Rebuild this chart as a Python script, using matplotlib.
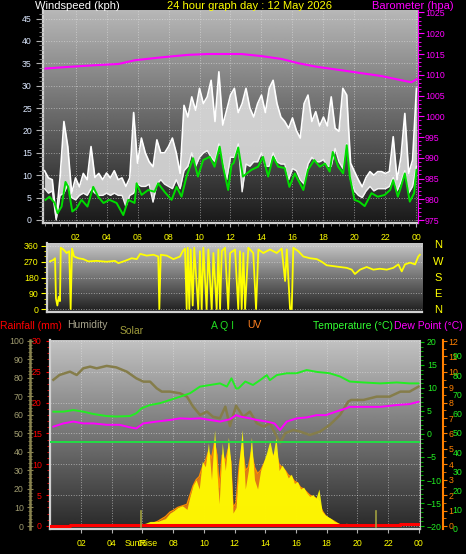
import matplotlib
matplotlib.use('Agg')
import matplotlib.pyplot as plt
import numpy as np
from matplotlib.ticker import MultipleLocator, FixedLocator

plt.rcParams['font.family'] = ['Liberation Sans', 'DejaVu Sans']

# ---------------- data ----------------
# wind, 15 minute steps from 00:00 to 24:00
wind_hours = [i * 0.25 for i in range(97)]
gust = [11, 9.4, 9.0, 0.5, 9.4, 22, 16.4, 6.0, 9.4, 7.4, 10.4, 9.0, 16.4, 9.5, 10.4, 9.0,
        10.5, 9.4, 11, 9.0, 9.4, 7.5, 9.4, 24, 12.7, 18.3, 15, 13, 11.9, 17.9, 15, 15,
        16.4, 18.3, 15, 10.4, 25.6, 23, 27.5, 24.5, 29.4, 26, 27.5, 31.2, 22, 33.1, 21.2, 24.5,
        27.9, 29.4, 24, 26, 29.4, 25, 23, 26, 27.9, 24, 29.4, 31.2, 26, 23, 22, 20.5,
        22.8, 20, 18.3, 26, 27.9, 22, 24.2, 21, 23, 21, 27.5, 20.5, 19.8, 29.4, 27.9, 12.7,
        10.8, 9, 7.4, 9.5, 10.8, 10, 10.8, 10.8, 10.4, 10.8, 18.6, 9, 14, 23.8, 10.4, 13.4, 29.4]
wind_low = [7, 6, 6.5, 0, 5.5, 6, 8, 5, 4.5, 5.5, 6, 5.5, 7, 6, 5.5, 5.5,
            6, 5.5, 6, 5.5, 5.5, 3, 5.5, 6, 8, 7.5, 7.5, 8, 4, 8, 9, 8,
            7.5, 7, 9, 7, 11, 12, 15, 12, 14, 15, 15.5, 14, 13, 17, 13.5, 9,
            14, 14, 17, 6.3, 12.5, 12, 13, 13, 15, 12, 12, 15, 13, 12.5, 12.5, 9,
            11.5, 11, 9, 8, 12.5, 14, 13, 13, 13.5, 12, 12, 16, 13, 11.5, 17, 9,
            6.5, 5.5, 5, 6.5, 7.5, 6.5, 7, 7, 7, 7.5, 9.5, 6.5, 8.5, 11, 6, 7.5, 12]

avg_hours = [0.06, 0.32, 0.65, 0.84, 1.1, 1.35, 1.53, 1.79, 2.06, 2.39, 2.77, 3.14, 3.46, 3.8,
             4.19, 4.65, 5.08, 5.4, 5.81, 5.94, 6.26, 6.69, 7.1, 7.33, 7.74, 8.2, 8.52, 8.84,
             9.16, 9.59, 9.9, 10.24, 10.66, 10.97, 11.3, 11.52, 11.85, 12.06, 12.2, 12.5, 12.8,
             13.35, 13.78, 14.1, 14.43, 14.75, 15.08, 15.5, 15.8, 16.15, 16.7, 17.0, 17.4, 17.76,
             18.1, 18.4, 18.6, 18.95, 19.27, 19.5, 19.7, 20.0, 20.3, 20.66, 21.1, 21.5, 21.95,
             22.3, 22.5, 22.8, 23.0, 23.25, 23.57, 23.85, 24.0]
wind_avg = [4.5, 5.2, 3.8, 1.5, 3.0, 8.5, 7.4, 1.9, 2.6, 4.5, 3.0, 7.4, 5.2, 3.8,
            4.5, 3.8, 1.1, 4.5, 3.8, 8.2, 5.6, 6.7, 6.3, 8.2, 6.3, 4.5, 7.4, 5.2,
            9.7, 13.8, 9.7, 13.4, 14.1, 11.9, 16.4, 11.9, 6.7, 12.3, 12.7, 16.2, 9.7,
            11.2, 11.9, 14.1, 9.7, 14.1, 11.9, 11.6, 7.4, 10.4, 6.7, 11.2, 13.4, 11.9,
            12.6, 10.8, 15.2, 11.9, 10.4, 16.7, 9.7, 4.5, 4.1, 3.1, 6.0, 5.2, 5.6,
            6.7, 8.9, 5.2, 7.4, 10.4, 4.1, 6.0, 11.2]

baro_hours = [0.06, 1.53, 3.25, 4.77, 5.83, 7.55, 9.27, 10.56, 12.06, 12.7, 14.0, 15.3, 16.36,
              17.6, 19.15, 20.23, 21.74, 23.0, 23.67, 24.0]
baro = [1011.5, 1011.9, 1012.3, 1012.6, 1013.5, 1014.2, 1014.8, 1015.0, 1015.0, 1015.0, 1014.5,
        1013.8, 1012.8, 1011.9, 1011.1, 1010.5, 1009.7, 1008.7, 1008.2, 1008.9]

dir_hours = [0.06, 0.28, 0.39, 0.45, 0.54, 0.63, 0.71, 0.76, 0.93, 1.14, 1.31, 1.4, 1.49, 1.62,
             1.9, 2.22, 2.54, 3.09, 3.73, 4.27, 4.49, 4.92, 5.35, 5.68, 5.9, 6.32, 6.76, 7.07,
             7.14, 7.23, 7.62, 8.05, 8.48, 8.65, 8.8, 8.91, 8.98, 9.08, 9.17, 9.3, 9.4, 9.66,
             9.77, 9.88, 9.99, 10.2, 10.31, 10.53, 10.64, 10.85, 10.96, 11.07, 11.18, 11.39,
             11.6, 11.72, 12.04, 12.25, 12.36, 12.47, 12.58, 12.69, 12.9, 13.22, 13.4, 13.55,
             13.87, 14.3, 14.74, 15.06, 15.28, 15.39, 15.6, 15.71, 15.81, 16.14, 16.46, 16.89,
             17.33, 17.65, 17.97, 18.4, 18.83, 19.27, 19.59, 19.8, 20.13, 20.56, 20.99, 21.42,
             21.86, 22.28, 22.61, 22.83, 23.04, 23.37, 23.69, 23.9, 24.0]
direction = [272, 280, 290, 60, 20, 70, 45, 350, 340, 320, 330, 0, 345, 300,
             290, 285, 272, 275, 270, 275, 262, 275, 290, 285, 315, 305, 310, 300,
             0, 310, 305, 285, 300, 330, 345, 0, 350, 0, 340, 20, 350, 0,
             330, 0, 350, 0, 340, 0, 320, 0, 340, 0, 330, 350,
             0, 320, 340, 0, 330, 0, 320, 0, 350, 320, 0, 340,
             320, 340, 320, 345, 160, 340, 0, 0, 350, 330, 300, 290,
             285, 270, 250, 245, 240, 235, 225, 200, 225, 240, 225, 230,
             225, 235, 255, 215, 255, 265, 255, 300, 310]

hum_hours = [0.2, 0.6, 1.28, 1.72, 2.15, 2.59, 3.02, 3.67, 4.3, 4.98, 5.6, 6.06, 6.5, 6.93, 7.26,
             7.8, 8.45, 8.9, 9.3, 9.75, 10.2, 10.6, 11.05, 11.4, 11.7, 12.1, 12.57, 13.0, 13.45,
             13.9, 14.3, 14.75, 14.96, 15.3, 15.83, 16.27, 16.9, 17.57, 18.2, 18.87, 19.4, 19.6,
             20.4, 21.26, 22.1, 22.8, 23.4, 23.98]
humidity = [79, 81.6, 83.4, 81.6, 85.2, 86.1, 85.2, 86.5, 85.7, 83.4, 79.8, 78, 78, 74.4, 72.6,
            72.6, 71.7, 69.9, 64.5, 60, 61.8, 59, 58.2, 64.5, 54, 65, 59, 61.8, 55.5,
            53.7, 55.5, 48.3, 44.7, 50.1, 51.9, 51, 49.2, 51, 54.6, 60, 67.2, 68.1,
            68.1, 69.9, 69.9, 72.6, 72.6, 75.3]

temp_hours = [0.2, 0.85, 1.5, 2.15, 2.8, 3.67, 4.3, 5.19, 5.6, 5.95, 6.5, 7.15, 7.8, 8.45, 9.1,
              9.75, 10.4, 11.05, 11.5, 11.8, 12.1, 12.25, 12.7, 13.2, 13.66, 14.1, 14.3, 14.75,
              15.4, 16.05, 16.7, 17.35, 18.2, 18.87, 19.5, 20.4, 21.5, 22.57, 23.4, 23.98]
temperature = [4.85, 4.85, 5.2, 4.85, 4.35, 3.9, 3.8, 3.9, 4.5, 5.6, 6.3, 6.7, 7.4, 8.1, 8.85,
               10.3, 10.65, 11.0, 10.3, 12.1, 9.9, 9.9, 11.4, 10.65, 11.7, 12.8, 11.7, 12.8,
               13.2, 13.2, 13.9, 13.5, 13.2, 12.5, 11.4, 11.2, 11.0, 11.2, 11.0, 11.0]

dew_hours = [0.2, 0.85, 1.5, 2.15, 2.8, 3.67, 4.5, 5.19, 5.6, 6.06, 6.93, 7.8, 8.45, 9.1, 9.75,
             10.4, 11.05, 11.7, 12.1, 12.35, 13.0, 13.45, 14.1, 14.6, 14.96, 15.4, 16.05, 16.7,
             17.35, 17.95, 18.6, 19.3, 19.5, 20.4, 21.5, 22.57, 23.4, 23.98]
dew_point = [1.6, 2.3, 2.7, 2.3, 2.3, 2.0, 2.0, 1.45, 1.2, 2.3, 2.7, 3.05, 3.4, 3.3, 3.4,
             3.05, 2.7, 3.2, 4.1, 3.8, 3.4, 3.05, 2.7, 2.3, 0.87, 2.7, 3.4, 3.6,
             4.1, 4.1, 4.85, 5.6, 5.9, 5.9, 5.9, 6.3, 6.5, 7.0]

solar_hours = [5.9, 6.2, 6.5, 7.0, 7.5, 7.8, 8.0, 8.3, 8.6, 8.9, 9.1, 9.3, 9.5, 9.7, 9.9, 10.1,
               10.3, 10.5, 10.7, 10.85, 11.0, 11.2, 11.4, 11.6, 11.75, 11.9, 12.1, 12.3, 12.5,
               12.7, 12.9, 13.1, 13.3, 13.5, 13.7, 13.9, 14.1, 14.3, 14.5, 14.7, 14.9, 15.1,
               15.3, 15.5, 15.7, 15.9, 16.1, 16.3, 16.5, 16.7, 16.9, 17.1, 17.3, 17.5, 17.7,
               17.9, 18.1, 18.3, 18.5, 18.8, 19.0, 19.3, 19.5, 19.7, 20.0]
solar = [10, 15, 25, 25, 40, 70, 80, 100, 110, 90, 160, 220, 250, 200, 350, 320,
         450, 250, 520, 300, 120, 450, 300, 480, 350, 70, 100, 350, 520,
         200, 300, 480, 250, 200, 300, 350, 400, 460, 380, 480, 300, 330,
         300, 260, 280, 230, 240, 200, 210, 180, 160, 170, 150, 200, 80,
         60, 50, 40, 25, 15, 10, 15, 5, 10, 0]
uv = [0, 0, 0.1, 0.3, 0.6, 0.9, 1.0, 1.2, 1.3, 1.4, 2.0, 2.6, 3.0, 3.2, 3.8, 4.2,
      4.8, 4.4, 5.4, 4.6, 2.5, 4.6, 4.2, 5.0, 4.2, 1.2, 1.5, 3.8, 5.2,
      3.6, 3.8, 4.8, 3.8, 3.4, 3.6, 4.0, 4.4, 4.8, 4.5, 4.8, 4.0, 3.8,
      3.6, 3.3, 3.2, 2.9, 2.8, 2.5, 2.4, 2.2, 2.0, 1.9, 1.8, 1.6, 1.0,
      0.7, 0.5, 0.4, 0.3, 0.1, 0, 0, 0, 0, 0]

aqi_hours = [0, 24]
aqi = [45, 45]

rain_hours = [0, 1.3, 1.3, 22.8, 22.8, 24]
rain = [0, 0, 0.12, 0.12, 0.4, 0.4]

sunrise, sunset = 5.9, 21.2

hour_ticks = list(range(2, 25, 2))
hour_labels = ['02', '04', '06', '08', '10', '12', '14', '16', '18', '20', '22', '00']

# ---------------- figure ----------------
W, H = 466, 554
fig = plt.figure(figsize=(W / 100, H / 100), dpi=100, facecolor='black')


def px_axes(l, t, r, b):
    return fig.add_axes([l / W, 1 - b / H, (r - l) / W, (b - t) / H])


def shade(ax, top, bottom):
    grad = np.linspace(top, bottom, 256).reshape(-1, 1)
    ax.imshow(grad, extent=[0, 1, 0, 1], transform=ax.transAxes, cmap='gray',
              vmin=0, vmax=1, aspect='auto', zorder=0, interpolation='bilinear')


def frame(ax, color='#d0d0d0'):
    for s in ['top', 'right']:
        ax.spines[s].set_visible(False)
    for s in ['left', 'bottom']:
        ax.spines[s].set_color(color)
        ax.spines[s].set_linewidth(1.6)


def ftext(x, y, s, color, ha='left', size=7.5, **kw):
    fig.text(x / W, 1 - y / H, s, color=color, ha=ha, va='center', fontsize=size, **kw)


grid_kw = dict(color='#e6e6e6', linestyle=':', linewidth=0.7, alpha=0.55)
tick_font = 6.3

# ---------------- top panel : wind + barometer ----------------
ax1 = px_axes(43, 10, 418, 223)
ax1.set_facecolor('black')
shade(ax1, 0.72, 0.1)
ax1.fill_between(wind_hours, wind_low, gust, color='#dcdcdc', alpha=0.9, lw=0, zorder=2)
ax1.plot(wind_hours, gust, color='white', lw=1.2, zorder=3)
ax1.plot(wind_hours, wind_low, color='#f4f4f4', lw=1.0, zorder=3)
ax1.plot(avg_hours, wind_avg, color='#00dd00', lw=1.4, zorder=4)
ax1.set_xlim(-0.1, 24.1)
ax1.set_ylim(-0.67, 46.9)
frame(ax1)
ax1.yaxis.set_major_locator(MultipleLocator(5))
ax1.yaxis.set_minor_locator(MultipleLocator(1))
ax1.xaxis.set_major_locator(FixedLocator(hour_ticks))
ax1.xaxis.set_minor_locator(MultipleLocator(0.5))
ax1.set_xticklabels(hour_labels)
ax1.tick_params(axis='y', which='major', length=5, color='#b0b0b0', labelcolor='#dce8ff',
                labelsize=tick_font, pad=3)
ax1.tick_params(axis='y', which='minor', length=3, color='#909090')
ax1.tick_params(axis='x', which='major', length=3, color='#b0b0b0', labelcolor='#ffff00',
                labelsize=tick_font, pad=4)
ax1.tick_params(axis='x', which='minor', length=2, color='#909090')
ax1.grid(True, which='major', **grid_kw)
ax1.set_axisbelow(False)

ax1b = ax1.twinx()
ax1b.plot(baro_hours, baro, color='#ff00ff', lw=1.5, zorder=5)
ax1b.set_ylim(974.3, 1025.6)
for s in ['top', 'left', 'bottom']:
    ax1b.spines[s].set_visible(False)
ax1b.spines['right'].set_color('#ff00ff')
ax1b.yaxis.set_major_locator(MultipleLocator(5))
ax1b.yaxis.set_minor_locator(MultipleLocator(1))
ax1b.tick_params(axis='y', which='major', length=4, color='#ff00ff', labelcolor='#ff00ff',
                 labelsize=tick_font, pad=1)
ax1b.tick_params(axis='y', which='minor', length=2, color='#ff00ff')

ftext(35, 6, 'Windspeed (kph)', 'white', size=8)
ftext(250, 6, '24 hour graph day : 12 May 2026', '#ffff00', ha='center', size=8)
ftext(372, 6, 'Barometer (hpa)', '#ff00ff', size=8)

# ---------------- middle panel : wind direction ----------------
ax2 = px_axes(47, 243, 422, 312)
shade(ax2, 0.78, 0.12)
ax2.plot(dir_hours, direction, color='#ffff00', lw=1.3, zorder=3)
ax2.set_xlim(-0.13, 24.14)
ax2.set_ylim(-17, 377)
frame(ax2)
ax2.yaxis.set_major_locator(FixedLocator([0, 90, 180, 270, 360]))
ax2.yaxis.set_minor_locator(MultipleLocator(30))
ax2.xaxis.set_major_locator(FixedLocator(hour_ticks))
ax2.tick_params(axis='y', which='major', length=4, color='#ffff00', labelcolor='#ffff00',
                labelsize=tick_font, pad=2)
ax2.tick_params(axis='y', which='minor', length=2, color='#ffff00')
ax2.tick_params(axis='x', length=0, labelbottom=False)
ax2.grid(True, axis='y', **grid_kw)
for lab, yy in zip(['N', 'W', 'S', 'E', 'N'], [245, 262, 278, 294, 310]):
    ftext(438, yy, lab, '#ffff00', ha='center', size=8)

# ---------------- bottom panel : temp, humidity, solar ----------------
ax3 = px_axes(50, 340, 420, 529)
shade(ax3, 0.76, 0.16)
ax3.set_xlim(-0.02, 24.08)
ax3.set_ylim(-0.49, 30.16)
frame(ax3)
ax3.yaxis.set_major_locator(MultipleLocator(5))
ax3.yaxis.set_minor_locator(MultipleLocator(1))
ax3.xaxis.set_major_locator(FixedLocator(hour_ticks))
ax3.set_xticklabels(hour_labels)
ax3.tick_params(axis='y', which='major', length=3, color='#ff0000', labelcolor='#ff0000',
                labelsize=tick_font, pad=3)
ax3.tick_params(axis='y', which='minor', length=2, color='#ff0000')
ax3.tick_params(axis='x', length=3, color='#b0b0b0', labelcolor='#ffff00',
                labelsize=tick_font, pad=4)
ax3.grid(True, which='major', **grid_kw)
ax3.text(sunrise, -0.075, 'SunRise', transform=ax3.get_xaxis_transform(), color='#ffff00',
         ha='center', va='center', fontsize=tick_font)

# UV sits behind the solar fill
ax_u = ax3.twinx()
ax_u.fill_between(solar_hours, 0, uv, color='#f08010', alpha=0.9, lw=0, zorder=2)
ax_u.plot(solar_hours, uv, color='#ff8c00', lw=1.0, zorder=3)
ax_u.set_ylim(-0.2, 12.07)
for s in ['top', 'left', 'bottom']:
    ax_u.spines[s].set_visible(False)
ax_u.spines['right'].set_position(('axes', (443 - 50) / 370))
ax_u.spines['right'].set_color('#ff8000')
ax_u.spines['right'].set_linewidth(1.5)
ax_u.yaxis.set_major_locator(MultipleLocator(1))
ax_u.yaxis.set_minor_locator(MultipleLocator(0.5))
ax_u.tick_params(axis='y', which='major', length=3, color='#ff8000', labelcolor='#ff8000',
                 labelsize=tick_font, pad=1)
ax_u.tick_params(axis='y', which='minor', length=2, color='#ff8000')

ax_s = ax3.twinx()
ax_s.fill_between(solar_hours, 0, solar, color='#ffff00', alpha=0.92, lw=0, zorder=2)
ax_s.set_ylim(-16, 1005)
ax_s.axis('off')

ax_r = ax3.twinx()
ax_r.plot(rain_hours, rain, color='#ff0000', lw=2.2, zorder=6)
ax_r.axvline(sunrise, ymin=0.01, ymax=0.095, color='#a0a040', lw=1.2, zorder=6)
ax_r.axvline(sunset, ymin=0.01, ymax=0.095, color='#a0a040', lw=1.2, zorder=6)
ax_r.set_ylim(-0.49, 30.16)
ax_r.axis('off')

ax_h = ax3.twinx()
ax_h.plot(hum_hours, humidity, color='#857d4a', lw=1.8, zorder=3)
ax_h.set_ylim(-1.62, 100.5)
ax_h.yaxis.tick_left()
for s in ['top', 'right', 'bottom']:
    ax_h.spines[s].set_visible(False)
ax_h.spines['left'].set_position(('axes', (30 - 50) / 370))
ax_h.spines['left'].set_color('#8a8450')
ax_h.spines['left'].set_linewidth(1.8)
ax_h.yaxis.set_major_locator(MultipleLocator(10))
ax_h.yaxis.set_minor_locator(MultipleLocator(2))
ax_h.tick_params(axis='y', which='major', direction='inout', length=5, color='#8a8450',
                 labelcolor='#a09c70', labelsize=tick_font, pad=2)
ax_h.tick_params(axis='y', which='minor', direction='inout', length=3, color='#8a8450')

ax_t = ax3.twinx()
ax_t.plot(temp_hours, temperature, color='#22ee22', lw=1.4, zorder=4)
ax_t.plot(dew_hours, dew_point, color='#ff00ff', lw=1.4, zorder=4)
ax_t.set_ylim(-20.65, 20.43)
for s in ['top', 'left', 'bottom']:
    ax_t.spines[s].set_visible(False)
ax_t.spines['right'].set_color('#c0c0c0')
ax_t.yaxis.set_major_locator(MultipleLocator(5))
ax_t.yaxis.set_minor_locator(MultipleLocator(1))
ax_t.tick_params(axis='y', which='major', length=3, color='#00c000', labelcolor='#22ee22',
                 labelsize=tick_font, pad=2)
ax_t.tick_params(axis='y', which='minor', length=2, color='#00c000')

ax_a = ax3.twinx()
ax_a.plot(aqi_hours, aqi, color='#22dd44', lw=1.4, zorder=4)
ax_a.set_ylim(0, 98.3)
for s in ['top', 'left', 'bottom', 'right']:
    ax_a.spines[s].set_visible(False)
ax_a.spines['right'].set_position(('axes', (443 - 50) / 370))
ax_a.yaxis.set_major_locator(FixedLocator(list(range(0, 100, 10))))
ax_a.tick_params(axis='y', length=0, labelcolor='#22ee22', labelsize=tick_font, pad=7)

ftext(0, 326, 'Rainfall (mm)', '#ff0000')
ftext(67, 325, 'Humidity', '#a8a48c')
ftext(120, 331, 'Solar', '#a09c3c')
ftext(211, 326, 'A Q I', '#22dd22')
ftext(247, 325, 'UV', '#ff8020')
ftext(313, 326, 'Temperature (°C)', '#33ff33')
ftext(394, 326, 'Dew Point (°C)', '#ff00ff')

fig.savefig('out.png', dpi=100, facecolor='black')
